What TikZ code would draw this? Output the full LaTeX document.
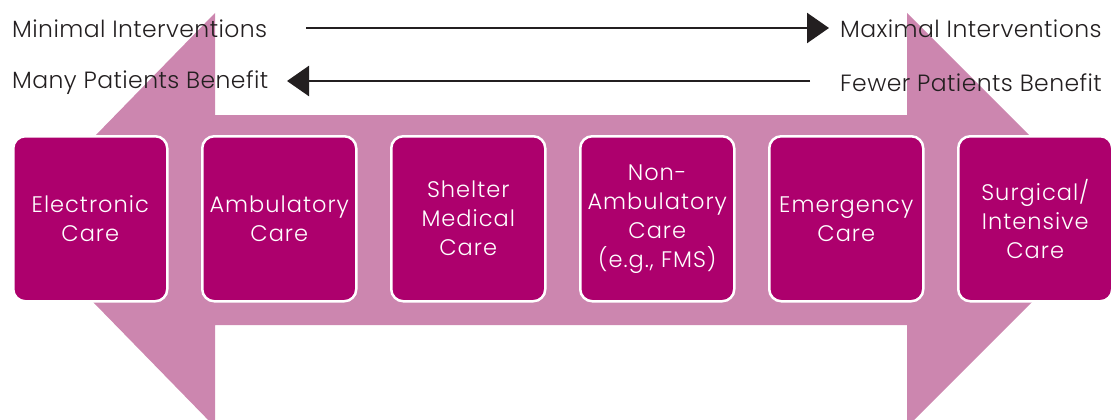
\documentclass[tikz,border=0pt]{standalone}
\usepackage{fontspec}
\setmainfont{Poppins}[UprightFont=* Light]
\usetikzlibrary{arrows.meta}
\definecolor{bandpink}{HTML}{CC86AF}
\definecolor{boxmag}{HTML}{AD006D}
\definecolor{txtgray}{HTML}{231F20}
\tikzset{
  carebox/.style={draw=white, line width=2.5pt, fill=boxmag, rounded corners=12pt,
    minimum width=154pt, minimum height=165pt, anchor=north west, inner sep=0pt,
    text=white, align=center, font=\fontsize{22.5}{29}\selectfont\addfontfeature{LetterSpace=4.5}},
  toplabel/.style={anchor=west, inner sep=0pt, text=txtgray, font=\fontsize{23.5}{26}\selectfont\addfontfeature{LetterSpace=1.8}},
  scalearrow/.style={draw=txtgray, line width=2.5pt, -{Triangle[length=22pt,width=30pt]}}
}
\begin{document}
\begin{tikzpicture}[x=1pt,y=-1pt]
\useasboundingbox (0,0) rectangle (1112,420);
\begin{scope}
\clip (0,0) rectangle (1112,420);
\fill[bandpink] (215,13) -- (215,115) -- (907,115) -- (907,13) -- (1114,220) -- (907,427)
  -- (907,325) -- (215,325) -- (215,427) -- (13,220) -- cycle;
\end{scope}
\node[toplabel] (minl) at (12,28.5) {Minimal Interventions};
\node[toplabel] (manyl) at (12,82.5) {Many Patients Benefit};
\node[toplabel] (maxl) at (840,28.5) {Maximal Interventions};
\node[toplabel] (fewl) at (840,82.5) {Fewer Patients Benefit};
\coordinate (a1s) at (306,28);
\coordinate (a1e) at (829,28);
\coordinate (a2s) at (810,81);
\coordinate (a2e) at (287,81);
\draw[scalearrow] (a1s) -- (a1e);
\draw[scalearrow] (a2s) -- (a2e);
\node[carebox] (b1) at (12,135) {Electronic\\Care};
\node[carebox] (b2) at (201,135) {Ambulatory\\Care};
\node[carebox] (b3) at (390,135) {Shelter\\Medical\\Care};
\node[carebox] (b4) at (579,135) {Non-\\Ambulatory\\Care\\(e.g., FMS)};
\node[carebox] (b5) at (768,135) {Emergency\\Care};
\node[carebox] (b6) at (957,135) {Surgical/\\Intensive\\Care};
\end{tikzpicture}
\end{document}
